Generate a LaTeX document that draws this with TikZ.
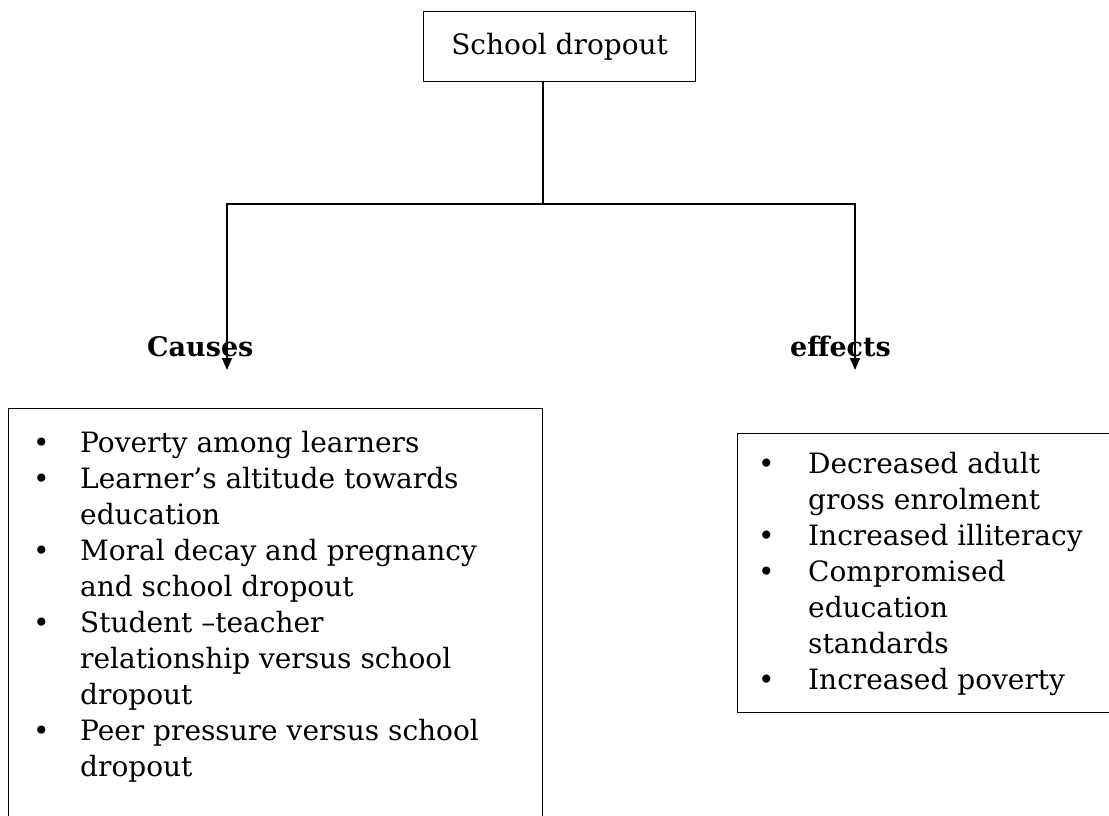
\documentclass[tikz,border=0pt]{standalone}
\usepackage{fontspec}
\setmainfont{DejaVu Serif}
\usetikzlibrary{arrows.meta}
\begin{document}
\begin{tikzpicture}[x=1pt,y=-1pt,
  conn/.style={line width=1.3pt},
  arr/.style={line width=1.3pt,-{Triangle[width=10pt,length=12pt]}},
  box/.style={draw,line width=1.3pt,rectangle,inner sep=0pt,anchor=north west},
  body/.style={font=\fontsize{28}{36}\selectfont,inner sep=0pt,anchor=north west,align=left},
  head/.style={font=\fontsize{27}{32}\selectfont\bfseries,inner sep=0pt,anchor=base west}]
\useasboundingbox (0,0) rectangle (1109,815);
\fill[white] (0,0) rectangle (1109,815);
\clip (0,0) rectangle (1109,815);
% top box
\node[box,minimum width=272pt,minimum height=70pt,font=\fontsize{28}{36}\selectfont] (top) at (423,11) {School dropout};
\coordinate (j) at (543,204);
\coordinate (ca) at (227,370);
\coordinate (ea) at (855,370);
\draw[conn] (top.south -| j) -- (j);
% headings
\node[head] (causes) at (147,356) {Causes};
\node[head] (effects) at (790,356) {effects};
\draw[arr] (j) -| (ca);
\draw[arr] (j) -| (ea);
% boxes
\node[box,minimum width=534pt,minimum height=450pt] (cbox) at (8,408) {};
\node[box,minimum width=400pt,minimum height=279pt] (ebox) at (737,433) {};
% lists
\node[body] (clist) at (33,427.5) {\begin{tabular}{@{}p{47pt}@{}l@{}}
\textbullet & Poverty among learners\\
\textbullet & Learner’s altitude towards\\
 & education\\
\textbullet & Moral decay and pregnancy\\
 & and school dropout\\
\textbullet & Student –teacher\\
 & relationship versus school\\
 & dropout\\
\textbullet & Peer pressure versus school\\
 & dropout
\end{tabular}};
\node[body] (elist) at (758,448.5) {\begin{tabular}{@{}p{50pt}@{}l@{}}
\textbullet & Decreased adult\\
 & gross enrolment\\
\textbullet & Increased illiteracy\\
\textbullet & Compromised\\
 & education\\
 & standards\\
\textbullet & Increased poverty
\end{tabular}};
\end{tikzpicture}
\end{document}
